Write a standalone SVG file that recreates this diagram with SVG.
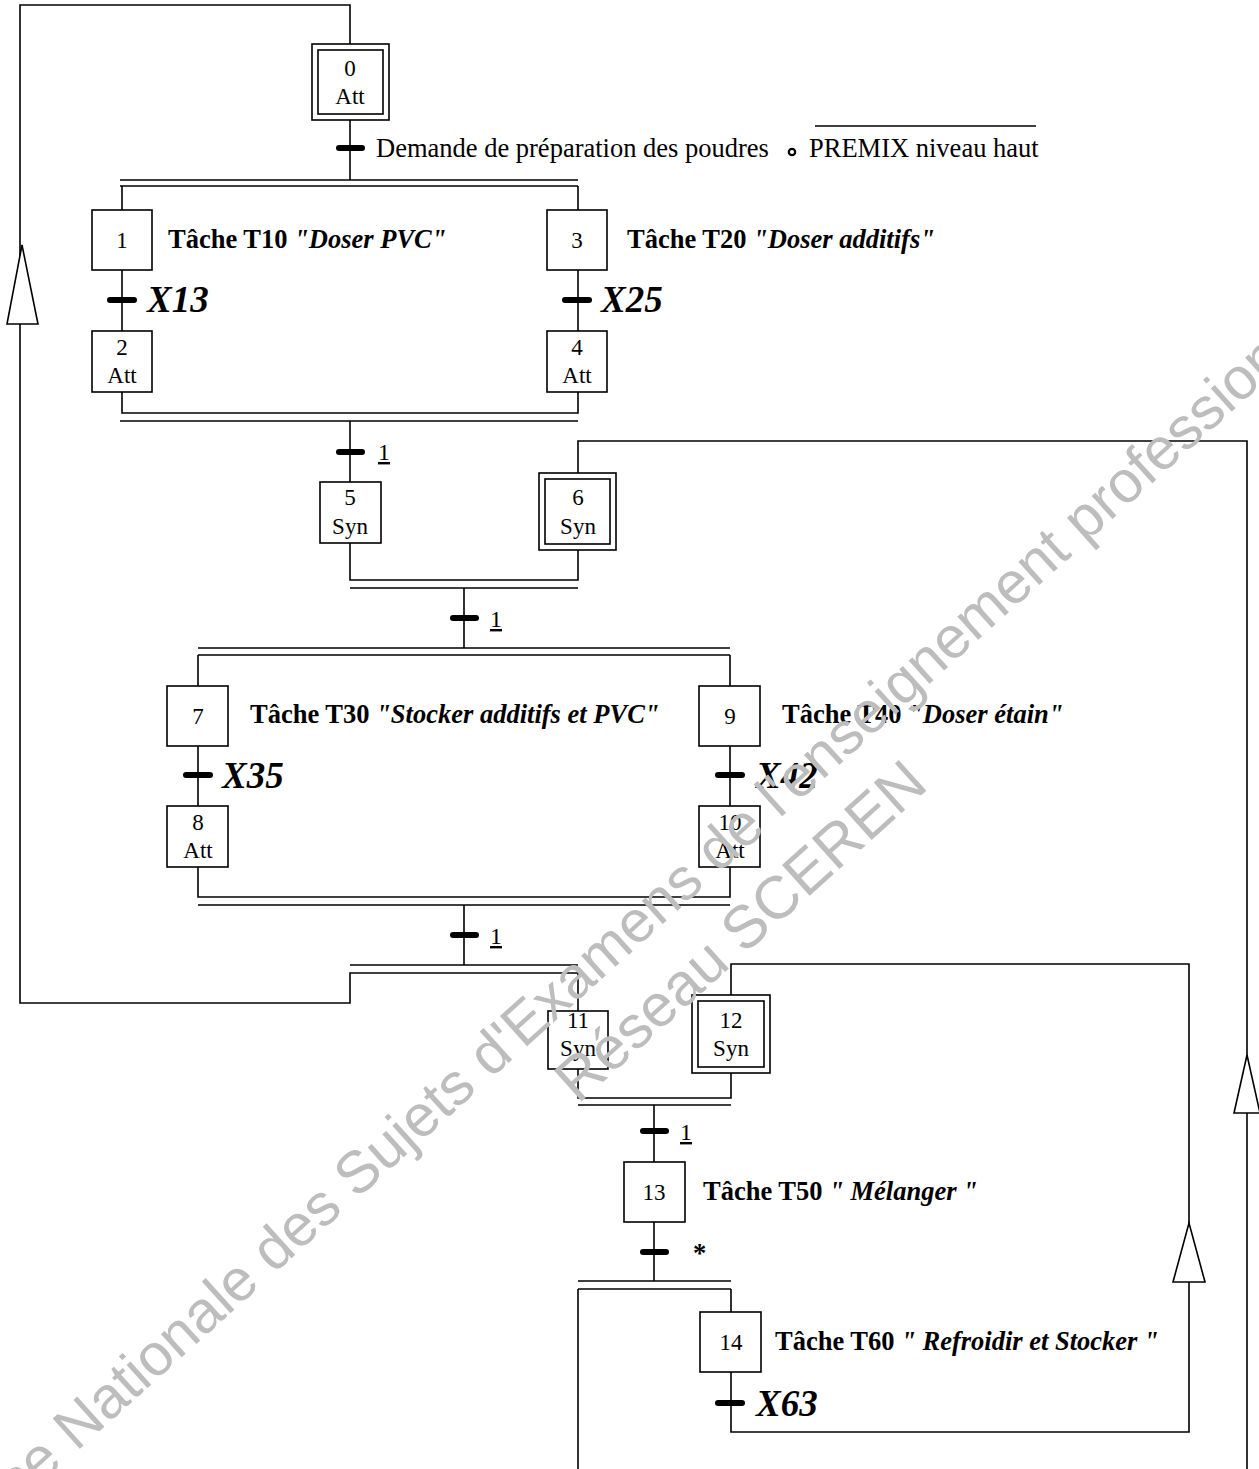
<svg xmlns="http://www.w3.org/2000/svg" width="1259" height="1469" viewBox="0 0 1259 1469">
<style>
.box{fill:#fff;stroke:#000;stroke-width:1.6}
.ln{fill:none;stroke:#000;stroke-width:1.6}
.bar{stroke:#000;stroke-width:6;stroke-linecap:round}
.arr{fill:#fff;stroke:#000;stroke-width:1.6}
.num{font-family:"Liberation Serif",serif;font-size:23px;text-anchor:middle;fill:#000}
.lbl{font-family:"Liberation Serif",serif;font-size:26.5px;font-weight:bold;fill:#000}
.it{font-style:italic}
.cond{font-family:"Liberation Serif",serif;font-size:26.5px;fill:#000}
.x{font-family:"Liberation Serif",serif;font-size:37px;font-weight:bold;font-style:italic;fill:#000}
.one{font-family:"Liberation Serif",serif;font-size:24px;fill:#000;text-decoration:underline}
.wm{font-family:"Liberation Sans",Arial,sans-serif;font-size:60px;fill:#bdbdbd;text-anchor:middle}
</style>
<g id="connectors">
<path class="ln" d="M578,1011 V973 H350 V1003 H20 V5 H350 V44"/>
<path class="ln" d="M350,120 V180"/>
<path class="ln" d="M120,180 H578 M120,186 H578"/>
<path class="ln" d="M122,186 V210 M578,186 V210"/>
<path class="ln" d="M122,270 V331 M578,270 V331"/>
<path class="ln" d="M122,392 V413 H578 V392 M120,421 H578"/>
<path class="ln" d="M350,421 V482"/>
<path class="ln" d="M578,473 V441 H1247 V1469"/>
<path class="ln" d="M350,543 V580 H578 V550 M350,588 H578"/>
<path class="ln" d="M464,588 V648 M198,648 H730 M198,655 H730"/>
<path class="ln" d="M198,655 V686 M730,655 V686"/>
<path class="ln" d="M198,746 V806 M730,746 V806"/>
<path class="ln" d="M198,867 V897 H730 V867 M198,905 H730"/>
<path class="ln" d="M464,905 V965 M350,965 H578"/>
<path class="ln" d="M731,995 V964 H1189 V1432 H731 V1372"/>
<path class="ln" d="M578,1069 V1098 H731 V1073 M578,1105 H731"/>
<path class="ln" d="M654,1105 V1162 M654,1222 V1281 M578,1281 H731 M578,1289 H731"/>
<path class="ln" d="M731,1289 V1312 M578,1289 V1469"/>
<polygon class="arr" points="22,245 7,324 38,324"/>
<polygon class="arr" points="1247,1055 1234,1113 1260,1113"/>
<polygon class="arr" points="1189,1223 1173,1282 1205,1282"/>
<g id="transitions">
<line class="bar" x1="339" y1="148" x2="362" y2="148"/>
<line class="bar" x1="110" y1="300" x2="134" y2="300"/>
<line class="bar" x1="565" y1="300" x2="589" y2="300"/>
<line class="bar" x1="339" y1="452" x2="362" y2="452"/>
<line class="bar" x1="453" y1="618" x2="476" y2="618"/>
<line class="bar" x1="186" y1="775" x2="210" y2="775"/>
<line class="bar" x1="718" y1="775" x2="742" y2="775"/>
<line class="bar" x1="453" y1="935" x2="476" y2="935"/>
<line class="bar" x1="643" y1="1131" x2="666" y2="1131"/>
<line class="bar" x1="643" y1="1252" x2="666" y2="1252"/>
<line class="bar" x1="718" y1="1403" x2="742" y2="1403"/>
</g>
<g id="transition-labels">
<text class="cond" x="376" y="157">Demande de préparation des poudres</text>
<circle cx="792" cy="152" r="3.2" fill="#fff" stroke="#000" stroke-width="2.2"/>
<text class="cond" x="809" y="157">PREMIX niveau haut</text>
<line x1="815" y1="126" x2="1036" y2="126" stroke="#000" stroke-width="1.6"/>
<text class="x" x="147" y="312">X13</text>
<text class="x" x="601" y="312">X25</text>
<text class="one" x="378" y="460">1</text>
<text class="one" x="490" y="627">1</text>
<text class="x" x="222" y="788">X35</text>
<text class="x" x="756" y="788">X42</text>
<text class="one" x="490" y="944">1</text>
<text class="one" x="680" y="1140">1</text>
<text class="lbl" x="693" y="1262">*</text>
<text class="x" x="756" y="1416">X63</text>
</g>
</g>
<g id="step0"><rect class="box" x="312" y="44" width="77" height="76"/><rect class="box" x="318" y="50" width="65" height="64"/><text class="num" x="350" y="76">0</text><text class="num" x="350" y="104">Att</text></g>
<g id="step1"><rect class="box" x="92" y="210" width="60" height="60"/><text class="num" x="122" y="248">1</text><text class="lbl" x="168" y="248">Tâche T10 <tspan class="it">"Doser PVC"</tspan></text></g>
<g id="step2"><rect class="box" x="92" y="331" width="60" height="61"/><text class="num" x="122" y="355">2</text><text class="num" x="122" y="383">Att</text></g>
<g id="step3"><rect class="box" x="547" y="210" width="60" height="60"/><text class="num" x="577" y="248">3</text><text class="lbl" x="627" y="248">Tâche T20 <tspan class="it">"Doser additifs"</tspan></text></g>
<g id="step4"><rect class="box" x="547" y="331" width="60" height="61"/><text class="num" x="577" y="355">4</text><text class="num" x="577" y="383">Att</text></g>
<g id="step5"><rect class="box" x="320" y="482" width="61" height="61"/><text class="num" x="350" y="505">5</text><text class="num" x="350" y="534">Syn</text></g>
<g id="step6"><rect class="box" x="539" y="473" width="77" height="77"/><rect class="box" x="545" y="479" width="65" height="65"/><text class="num" x="578" y="505">6</text><text class="num" x="578" y="534">Syn</text></g>
<g id="step7"><rect class="box" x="167" y="686" width="61" height="60"/><text class="num" x="198" y="724">7</text><text class="lbl" x="250" y="723">Tâche T30 <tspan class="it">"Stocker additifs et PVC"</tspan></text></g>
<g id="step8"><rect class="box" x="167" y="806" width="61" height="61"/><text class="num" x="198" y="830">8</text><text class="num" x="198" y="858">Att</text></g>
<g id="step9"><rect class="box" x="699" y="686" width="61" height="60"/><text class="num" x="730" y="724">9</text><text class="lbl" x="782" y="723">Tâche T40 <tspan class="it">"Doser étain"</tspan></text></g>
<g id="step10"><rect class="box" x="699" y="806" width="61" height="61"/><text class="num" x="730" y="830">10</text><text class="num" x="730" y="858">Att</text></g>
<g id="step11"><rect class="box" x="548" y="1011" width="60" height="58"/><text class="num" x="578" y="1028">11</text><text class="num" x="578" y="1056">Syn</text></g>
<g id="step12"><rect class="box" x="692" y="995" width="78" height="78"/><rect class="box" x="698" y="1001" width="66" height="66"/><text class="num" x="731" y="1028">12</text><text class="num" x="731" y="1056">Syn</text></g>
<g id="step13"><rect class="box" x="624" y="1162" width="61" height="60"/><text class="num" x="654" y="1200">13</text><text class="lbl" x="703" y="1200">Tâche T50 <tspan class="it">" Mélanger "</tspan></text></g>
<g id="step14"><rect class="box" x="700" y="1312" width="61" height="60"/><text class="num" x="731" y="1350">14</text><text class="lbl" x="775" y="1350">Tâche T60 <tspan class="it">" Refroidir et Stocker "</tspan></text></g>
<g id="watermark">
<text class="wm" style="font-size:59px" transform="translate(655,931) rotate(-42)">Base Nationale des Sujets d'Examens de l'enseignement professionnel</text>
<text class="wm" transform="translate(754,946) rotate(-42)">Réseau SCEREN</text>
</g>
</svg>
